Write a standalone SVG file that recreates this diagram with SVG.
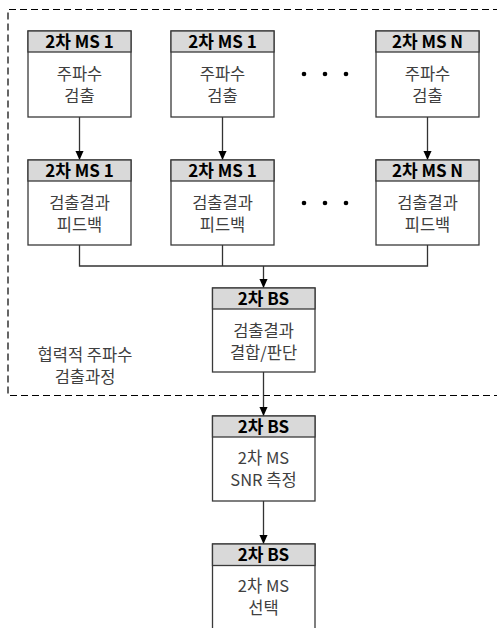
<svg xmlns="http://www.w3.org/2000/svg" width="497" height="628" viewBox="0 0 497 628">
<defs>
<marker id="ah" viewBox="0 0 10 10" refX="10" refY="5" markerWidth="9" markerHeight="9" markerUnits="userSpaceOnUse" orient="auto">
<path d="M0,0.5 L10,5 L0,9.5 Z" fill="#000"/>
</marker>
<style>
.box{fill:#fff;stroke:#3a3a3a;stroke-width:1.3}
.hdr{fill:#d9d9d9;stroke:#3a3a3a;stroke-width:1.3}
.ht{font-family:"Noto Sans CJK KR","Noto Sans",sans-serif;font-size:17px;font-weight:bold;fill:#000;text-anchor:middle}
.bt{font-family:"Noto Sans CJK KR","Noto Sans",sans-serif;font-size:16.5px;fill:#404040;text-anchor:middle}
.ln{fill:none;stroke:#333;stroke-width:1.3}
.dash{fill:none;stroke:#000;stroke-width:1.2;stroke-dasharray:7,4}
</style>
</defs>
<rect width="497" height="628" fill="#fff"/>
<path class="dash" d="M500,9.5 L8,9.5 L8,395.5 L500,395.5"/>
<g id="label">
<text class="bt" x="85" y="361">협력적 주파수</text>
<text class="bt" x="85" y="383">검출과정</text>
</g>
<g id="dots" fill="#000">
<circle cx="304" cy="74" r="2.3"/><circle cx="325" cy="74" r="2.3"/><circle cx="346" cy="74" r="2.3"/>
<circle cx="304" cy="203" r="2.3"/><circle cx="325" cy="203" r="2.3"/><circle cx="346" cy="203" r="2.3"/>
</g>
<g id="connectors">
<path class="ln" d="M79.5,117 L79.5,160" marker-end="url(#ah)"/>
<path class="ln" d="M222.5,117 L222.5,160" marker-end="url(#ah)"/>
<path class="ln" d="M427.5,117 L427.5,160" marker-end="url(#ah)"/>
<path class="ln" d="M79.5,244 L79.5,266 L427.5,266 L427.5,244"/>
<path class="ln" d="M222.5,244 L222.5,266"/>
<path class="ln" d="M263.5,266 L263.5,288" marker-end="url(#ah)"/>
<path class="ln" d="M263.5,372 L263.5,416" marker-end="url(#ah)"/>
<path class="ln" d="M263.5,501 L263.5,544" marker-end="url(#ah)"/>
</g>
<g id="ms1a">
<rect class="box" x="28" y="31" width="103" height="86"/>
<rect class="hdr" x="28" y="31" width="103" height="21"/>
<text class="ht" x="79.5" y="47.5">2차 MS 1</text>
<text class="bt" x="79.5" y="80">주파수</text>
<text class="bt" x="79.5" y="102">검출</text>
</g>
<g id="ms1b">
<rect class="box" x="171" y="31" width="103" height="86"/>
<rect class="hdr" x="171" y="31" width="103" height="21"/>
<text class="ht" x="222.5" y="47.5">2차 MS 1</text>
<text class="bt" x="222.5" y="80">주파수</text>
<text class="bt" x="222.5" y="102">검출</text>
</g>
<g id="msNa">
<rect class="box" x="376" y="31" width="103" height="86"/>
<rect class="hdr" x="376" y="31" width="103" height="21"/>
<text class="ht" x="427.5" y="47.5">2차 MS N</text>
<text class="bt" x="427.5" y="80">주파수</text>
<text class="bt" x="427.5" y="102">검출</text>
</g>
<g id="ms1c">
<rect class="box" x="28" y="160" width="103" height="85"/>
<rect class="hdr" x="28" y="160" width="103" height="21"/>
<text class="ht" x="79.5" y="176.5">2차 MS 1</text>
<text class="bt" x="79.5" y="209">검출결과</text>
<text class="bt" x="79.5" y="231">피드백</text>
</g>
<g id="ms1d">
<rect class="box" x="171" y="160" width="103" height="85"/>
<rect class="hdr" x="171" y="160" width="103" height="21"/>
<text class="ht" x="222.5" y="176.5">2차 MS 1</text>
<text class="bt" x="222.5" y="209">검출결과</text>
<text class="bt" x="222.5" y="231">피드백</text>
</g>
<g id="msNb">
<rect class="box" x="376" y="160" width="103" height="85"/>
<rect class="hdr" x="376" y="160" width="103" height="21"/>
<text class="ht" x="427.5" y="176.5">2차 MS N</text>
<text class="bt" x="427.5" y="209">검출결과</text>
<text class="bt" x="427.5" y="231">피드백</text>
</g>
<g id="bs1">
<rect class="box" x="212.5" y="288" width="102.5" height="84"/>
<rect class="hdr" x="212.5" y="288" width="102.5" height="21"/>
<text class="ht" x="263.5" y="304.5">2차 BS</text>
<text class="bt" x="263.5" y="337">검출결과</text>
<text class="bt" x="263.5" y="359">결합/판단</text>
</g>
<g id="bs2">
<rect class="box" x="212.5" y="416" width="102.5" height="85"/>
<rect class="hdr" x="212.5" y="416" width="102.5" height="21"/>
<text class="ht" x="263.5" y="432.5">2차 BS</text>
<text class="bt" x="263.5" y="464">2차 MS</text>
<text class="bt" x="263.5" y="486">SNR 측정</text>
</g>
<g id="bs3">
<rect class="box" x="212.5" y="544" width="102.5" height="90"/>
<rect class="hdr" x="212.5" y="544" width="102.5" height="21.5"/>
<text class="ht" x="263.5" y="560.5">2차 BS</text>
<text class="bt" x="263.5" y="592">2차 MS</text>
<text class="bt" x="263.5" y="614">선택</text>
</g>
</svg>
